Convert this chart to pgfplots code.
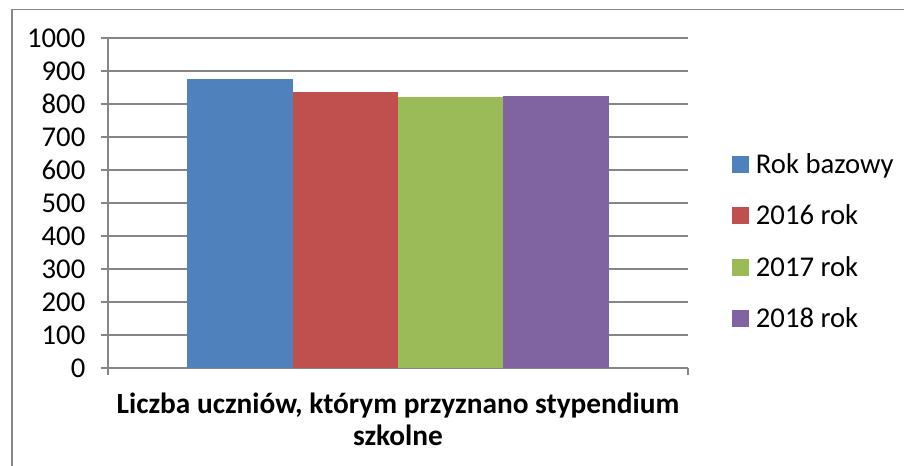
\documentclass[border=0pt]{standalone}
\usepackage{pgfplots}
\pgfplotsset{compat=1.18}
\usepackage{fontspec}
\setmainfont{Carlito}
\definecolor{cblue}{HTML}{4F81BD}
\definecolor{cred}{HTML}{C0504D}
\definecolor{cgreen}{HTML}{9BBB59}
\definecolor{cpurple}{HTML}{8064A2}
\definecolor{cgrid}{HTML}{868686}
\begin{document}
\begin{tikzpicture}
\path[use as bounding box] (0pt,0pt) rectangle (678pt,349.5pt);
\draw[cgrid,line width=1.1pt] (9pt,-10pt) -- (9pt,342.5pt) -- (690pt,342.5pt);
\begin{axis}[
  at={(81pt,73.5pt)}, anchor=south west,
  scale only axis, width=435pt, height=247.5pt,
  xmin=-1, xmax=1, ymin=0, ymax=1000,
  ytick={0,100,...,1000},
  xtick={-1,1}, xticklabels={},
  axis x line*=bottom, axis y line*=left,
  axis line style={cgrid, line width=0.8pt},
  ymajorgrids, grid style={cgrid, line width=0.8pt},
  tick style={cgrid, line width=0.8pt},
  tick align=outside, major tick length=5.5pt,
  ticklabel style={font=\fontsize{21.5}{26}\selectfont},
  /pgf/number format/assume math mode=true,
  /pgf/number format/1000 sep={},
  yticklabel style={xshift=-8pt},
  ybar=0pt, bar width=79.1pt,
  legend style={at={(1,0.5)}, anchor=west, xshift=30pt, yshift=-28.9pt,
    draw=none, fill=none, font=\fontsize{21.5}{26}\selectfont,
    row sep=18pt, legend cell align=left,
    /tikz/every odd column/.append style={column sep=3pt}},
  legend image code/.code={\fill[#1] (0pt,-6.4pt) rectangle (12.75pt,6.4pt);},
]
\addplot[fill=cblue, draw=none] coordinates {(0,876)};
\addplot[fill=cred, draw=none] coordinates {(0,836)};
\addplot[fill=cgreen, draw=none] coordinates {(0,821)};
\addplot[fill=cpurple, draw=none] coordinates {(0,824)};
\legend{Rok bazowy, 2016 rok, 2017 rok, 2018 rok}
\end{axis}
\node[align=center, font=\bfseries\fontsize{22}{24}\selectfont, anchor=north] at (298.5pt,58pt) {Liczba uczniów, którym przyznano stypendium\\szkolne};
\end{tikzpicture}
\end{document}
